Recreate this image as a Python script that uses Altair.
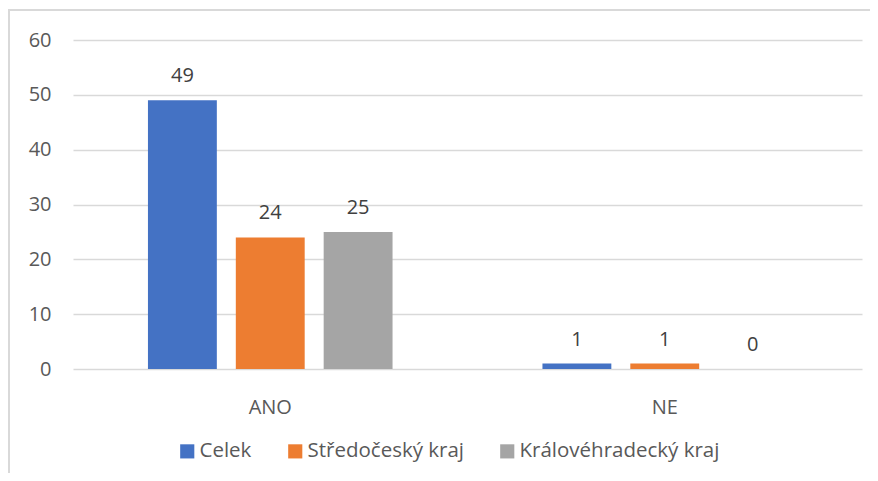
import altair as alt
import pandas as pd

categories = ["ANO", "NE"]
series = ["Celek", "Středočeský kraj", "Královéhradecký kraj"]
celek = [49, 1]
stredocesky = [24, 1]
kralovehradecky = [25, 0]
colors = ["#4472C4", "#ED7D31", "#A5A5A5"]

rows = []
for i, c in enumerate(categories):
    for s, vals in zip(series, [celek, stredocesky, kralovehradecky]):
        rows.append({"kategorie": c, "serie": s, "hodnota": vals[i]})
df = pd.DataFrame(rows)

W, H = 789, 329
FONT = "Open Sans"

x_enc = alt.X("kategorie:N", sort=categories,
              scale=alt.Scale(paddingInner=0.38, paddingOuter=0.19),
              axis=alt.Axis(title=None, labelAngle=0, ticks=False, domain=False,
                            labelPadding=28, labelFontSize=20, labelColor="#595959",
                            labelFont=FONT, labelBaseline="top"))
xo_enc = alt.XOffset("serie:N", sort=series,
                     scale=alt.Scale(paddingInner=0.216, paddingOuter=0))
y_enc = alt.Y("hodnota:Q", scale=alt.Scale(domain=[0, 60]),
              axis=alt.Axis(title=None, values=[0, 10, 20, 30, 40, 50, 60],
                            ticks=False, domain=False, labelPadding=22,
                            labelFontSize=20, labelColor="#595959", labelFont=FONT,
                            gridColor="#d9d9d9", gridWidth=1.5))
color_enc = alt.Color("serie:N", sort=series,
                      scale=alt.Scale(domain=series, range=colors),
                      legend=alt.Legend(title=None, orient="none", direction="horizontal",
                                        legendX=104, legendY=401,
                                        symbolType="square", symbolSize=200,
                                        symbolStrokeWidth=0, symbolOpacity=1,
                                        labelFontSize=20.5, labelColor="#595959",
                                        labelFont=FONT, labelOffset=2, labelLimit=0,
                                        columnPadding=33))

base = alt.Chart(df)
bars = base.mark_bar().encode(x=x_enc, xOffset=xo_enc, y=y_enc, color=color_enc)
labels = base.mark_text(baseline="alphabetic", dy=-18, fontSize=20,
                        color="#404040", font=FONT).encode(
    x=x_enc, xOffset=xo_enc, y=y_enc, text="hodnota:Q")

frame_df = pd.DataFrame({"a": [0]})
left_border = alt.Chart(frame_df).mark_rule(color="#d9d9d9", strokeWidth=2).encode(
    x=alt.value(-64), y=alt.value(-31), y2=alt.value(H + 120))
top_border = alt.Chart(frame_df).mark_rule(color="#d9d9d9", strokeWidth=2).encode(
    y=alt.value(-30), x=alt.value(-65), x2=alt.value(W + 30))

chart = alt.layer(bars, labels, left_border, top_border).properties(
    width=W, height=H,
    autosize=alt.AutoSizeParams(type="none"),
    padding={"left": 65, "top": 32, "right": 8, "bottom": 104},
).configure_view(stroke=None)

chart.save("out.html", embed_options={"renderer": "svg", "actions": False})
